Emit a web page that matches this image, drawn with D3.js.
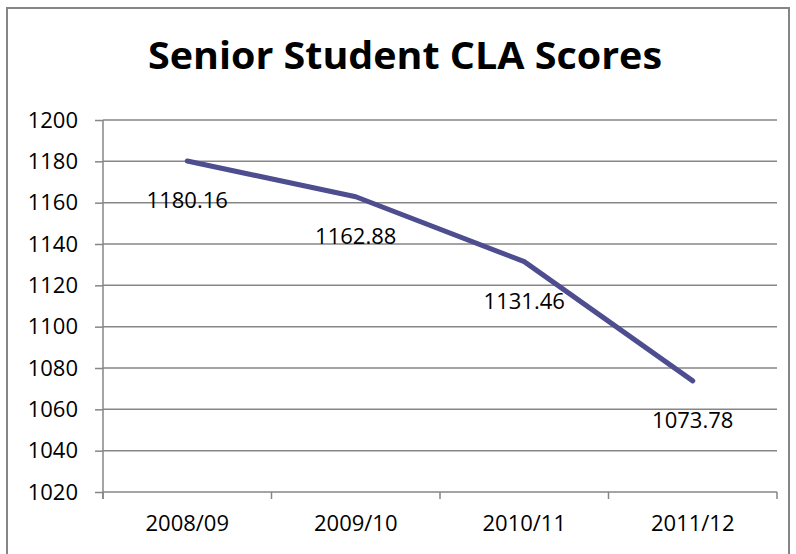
<!DOCTYPE html>
<html><head><meta charset="utf-8">
<script src="https://cdn.jsdelivr.net/npm/d3@7/dist/d3.min.js"></script>
<style>body{margin:0;background:#fff}svg{display:block}</style>
</head><body>
<script>
const categories = ["2008/09", "2009/10", "2010/11", "2011/12"];
const scores = [1180.16, 1162.88, 1131.46, 1073.78];
const yTicks = [1020, 1040, 1060, 1080, 1100, 1120, 1140, 1160, 1180, 1200];
const title = "Senior Student CLA Scores";

const W = 796, H = 554;
const svg = d3.select("body").append("svg").attr("width", W).attr("height", H);
const font = "'Open Sans', sans-serif";
const fs = 22;
const gray = "#868686";

// outer frame
svg.append("rect").attr("x", 7).attr("y", 8).attr("width", 782).attr("height", 560)
  .attr("fill", "none").attr("stroke", gray).attr("stroke-width", 2);

const m = {left: 103, right: 777, top: 120, bottom: 492};
const x = d3.scaleBand().domain(categories).range([m.left, m.right]);
const y = d3.scaleLinear().domain([1020, 1200]).range([m.bottom, m.top]);

// title
svg.append("text").attr("x", 405).attr("y", 69).attr("text-anchor", "middle")
  .attr("font-family", font).attr("font-weight", "bold")
  .attr("font-size", 37).attr("fill", "#000")
  .attr("textLength", 514).attr("lengthAdjust", "spacingAndGlyphs").text(title);

// gridlines
svg.append("g").selectAll("line").data(yTicks.slice(1)).join("line")
  .attr("x1", m.left).attr("x2", m.right)
  .attr("y1", d => y(d)).attr("y2", d => y(d))
  .attr("stroke", gray).attr("stroke-width", 1.5);

// y axis
const yAxis = svg.append("g").attr("transform", `translate(${m.left},0)`)
  .call(d3.axisLeft(y).tickValues(yTicks).tickSize(8).tickPadding(17).tickFormat(d3.format("d")));
yAxis.select(".domain").attr("stroke", gray).attr("stroke-width", 1.5).attr("d", `M0,${m.top}V${m.bottom + 7}`);
yAxis.selectAll(".tick line").attr("stroke", gray).attr("stroke-width", 1.5);
yAxis.selectAll(".tick text").attr("font-family", font).attr("font-size", fs).attr("fill", "#000");

// x axis
const xAxis = svg.append("g").attr("transform", `translate(0,${m.bottom})`)
  .call(d3.axisBottom(x).tickSize(0).tickPadding(23));
xAxis.select(".domain").attr("stroke", gray).attr("stroke-width", 1.5).attr("d", `M${m.left},0H${m.right}`);
xAxis.selectAll(".tick text").attr("font-family", font).attr("font-size", fs).attr("fill", "#000");
// category boundary ticks
const bounds = categories.map(c => x(c)).concat([x(categories[categories.length - 1]) + x.bandwidth()]);
svg.append("g").selectAll("line").data(bounds).join("line")
  .attr("x1", d => d).attr("x2", d => d).attr("y1", m.bottom).attr("y2", m.bottom + 7)
  .attr("stroke", gray).attr("stroke-width", 1.5);

// line
const cx = (d, i) => x(categories[i]) + x.bandwidth() / 2;
svg.append("path").datum(scores)
  .attr("d", d3.line().x(cx).y(d => y(d)))
  .attr("fill", "none").attr("stroke", "#4d4d8f").attr("stroke-width", 5)
  .attr("stroke-linecap", "round").attr("stroke-linejoin", "round");

// data labels
svg.append("g").selectAll("text").data(scores).join("text")
  .attr("x", cx).attr("y", d => y(d) + 47)
  .attr("text-anchor", "middle").attr("font-family", font).attr("font-size", fs)
  .attr("fill", "#000").text(d => d.toFixed(2));
</script>
</body></html>
